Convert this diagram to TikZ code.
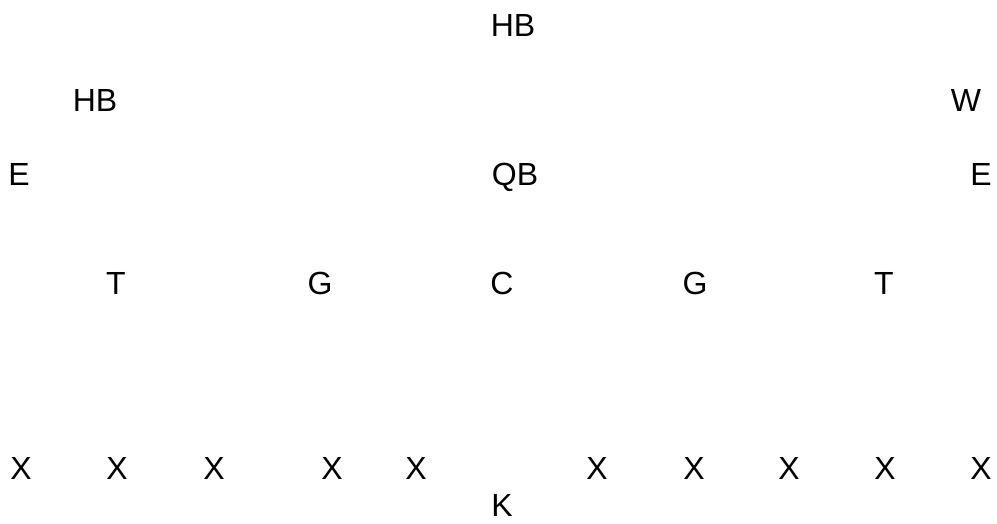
\documentclass[tikz,border=0pt]{standalone}
\usepackage{fontspec}
\setmainfont{Liberation Sans}
\usetikzlibrary{positioning}
\tikzstyle{player} = [
  inner sep=0,
  anchor=base,
  font=\fontsize{32}{38}\selectfont
]

\begin{document}
\begin{tikzpicture}[x=1pt,y=1pt]
      \useasboundingbox (0,0) rectangle (997,523);

      \node [player] (hbtop) at (513,486) {HB};
      \node [player] (hbleft) at (95,411) {HB};
      \node [player] (wing) at (966,411) {W};
      \node [player] (endleft) at (19,337) {E};
      \node [player] (qb) at (515,337) {QB};
      \node [player] (endright) at (981,337) {E};

      \node [player] (tleft) at (116,228) {T};
      \node [player] (gleft) at (320,228) {G};
      \node [player] (center) at (502,228) {C};
      \node [player] (gright) at (695,228) {G};
      \node [player] (tright) at (884,228) {T};

      \node [player] (x1) at (21,44) {X};
      \node [player] (x2) at (117,44) {X};
      \node [player] (x3) at (214,44) {X};
      \node [player] (x4) at (332,44) {X};
      \node [player] (x5) at (416,44) {X};
      \node [player] (x6) at (597,44) {X};
      \node [player] (x7) at (694,44) {X};
      \node [player] (x8) at (789,44) {X};
      \node [player] (x9) at (885,44) {X};
      \node [player] (x10) at (981,44) {X};
      \node [player] (kicker) at (502,7) {K};

    \end{tikzpicture}
\end{document}
